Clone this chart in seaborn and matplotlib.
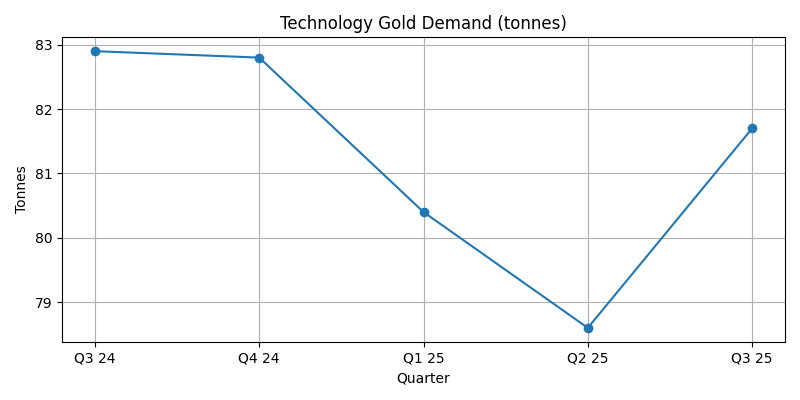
import matplotlib
matplotlib.use("Agg")
import matplotlib.pyplot as plt
import seaborn as sns
import pandas as pd

quarters = ["Q3 24", "Q4 24", "Q1 25", "Q2 25", "Q3 25"]
tonnes = [82.9, 82.8, 80.4, 78.6, 81.7]

df = pd.DataFrame({"Quarter": quarters, "Tonnes": tonnes})

fig, ax = plt.subplots(figsize=(8, 4), dpi=100)
sns.lineplot(data=df, x="Quarter", y="Tonnes", marker="o", markersize=7,
             markeredgewidth=0, color="#1f77b4", sort=False, ax=ax)
ax.set_title("Technology Gold Demand (tonnes)")
ax.set_xlabel("Quarter")
ax.set_ylabel("Tonnes")
ax.grid(True)
fig.tight_layout()
fig.savefig("out.png", dpi=100)
